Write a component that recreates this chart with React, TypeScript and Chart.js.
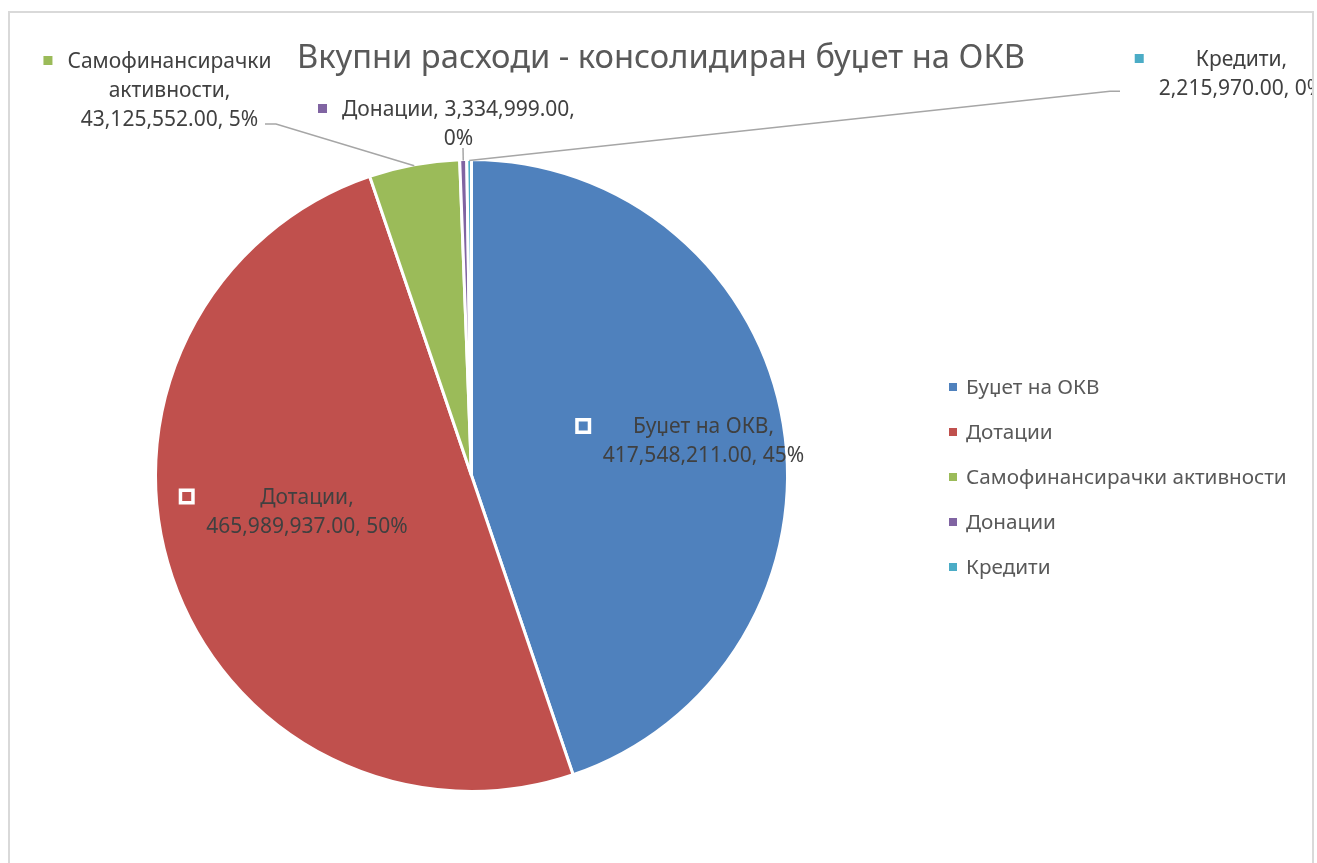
import React, { useEffect, useRef } from "react";
import { Chart, registerables } from "chart.js";

Chart.register(...registerables);

const titleText = "Вкупни расходи - консолидиран буџет на ОКВ";
const categories = [
  "Буџет на ОКВ",
  "Дотации",
  "Самофинансирачки активности",
  "Донации",
  "Кредити",
];
const values = [417548211.0, 465989937.0, 43125552.0, 3334999.0, 2215970.0];
const colors = ["#4F81BD", "#C0504D", "#9BBB59", "#8064A2", "#4BACC6"];

// line breaks (after token index) for each data label
const labelBreaks = [[2], [0], [0, 1], [1], [0]];
// text block centre (first line) offset from pie centre, px
const labelOffsets = [
  [232, -49.5],
  [-164.5, 21],
  [-302, -415],
  [-13, -367],
  [770, -417],
];
// leader line points (relative to pie centre) for outside labels; null = none
const leaderPoints: (number[][] | null)[] = [
  null,
  null,
  [
    [-206.5, -351.5],
    [-195.5, -351.5],
  ],
  [[-8.5, -327.5]],
  [
    [648.5, -384.2],
    [638.5, -384.2],
  ],
];

const FONT = "'Noto Sans', sans-serif";

function fmt(v: number) {
  return v.toLocaleString("en-US", {
    minimumFractionDigits: 2,
    maximumFractionDigits: 2,
  });
}

const labelsPlugin = {
  id: "customLabels",
  afterDatasetsDraw(chart: any) {
    const ctx: CanvasRenderingContext2D = chart.ctx;
    const meta = chart.getDatasetMeta(0);
    const total = values.reduce((a, b) => a + b, 0);
    ctx.save();

    // title
    const tSize = 32.7;
    ctx.font = `${tSize}px ${FONT}`;
    ctx.fillStyle = "#595959";
    ctx.textAlign = "center";
    ctx.textBaseline = "alphabetic";
    ctx.fillText(titleText, chart.width / 2, 43 + tSize * 0.357);

    // legend
    const lSize = 20.7;
    ctx.font = `${lSize}px ${FONT}`;
    ctx.textAlign = "left";
    categories.forEach((c, i) => {
      const y = 374 + i * 45;
      ctx.fillStyle = colors[i];
      ctx.fillRect(939, y - 4, 8, 8);
      ctx.fillStyle = "#595959";
      ctx.fillText(c, 956, y + lSize * 0.357);
    });

    // data labels
    const size = 21;
    const lh = 29;
    ctx.font = `${size}px ${FONT}`;
    meta.data.forEach((arc: any, i: number) => {
      const cx = arc.x;
      const cy = arc.y;
      const pct = Math.round((values[i] / total) * 100) + "%";
      const text = `${categories[i]}, ${fmt(values[i])}, ${pct}`;
      const tokens = text.split(" ");
      const lines: string[] = [];
      let cur: string[] = [];
      tokens.forEach((t, k) => {
        cur.push(t);
        if (labelBreaks[i].includes(k)) {
          lines.push(cur.join(" "));
          cur = [];
        }
      });
      if (cur.length) lines.push(cur.join(" "));

      const tx = cx + labelOffsets[i][0];
      const ty = cy + labelOffsets[i][1];
      let maxW = 0;
      lines.forEach((l) => (maxW = Math.max(maxW, ctx.measureText(l).width)));
      const left = tx - maxW / 2;

      // leader line
      const lp = leaderPoints[i];
      if (lp) {
        const mid = (arc.startAngle + arc.endAngle) / 2;
        const R = arc.outerRadius;
        ctx.strokeStyle = "#A6A6A6";
        ctx.lineWidth = 1.5;
        ctx.beginPath();
        ctx.moveTo(cx + lp[0][0], cy + lp[0][1]);
        for (let k = 1; k < lp.length; k++) ctx.lineTo(cx + lp[k][0], cy + lp[k][1]);
        ctx.lineTo(cx + (R - 1) * Math.cos(mid), cy + (R - 1) * Math.sin(mid));
        ctx.stroke();
      }

      // legend key
      const mx = left - 19.5;
      ctx.fillStyle = "#ffffff";
      ctx.fillRect(mx - 8, ty - 8, 16, 16);
      ctx.fillStyle = colors[i];
      ctx.fillRect(mx - 4.5, ty - 4.5, 9, 9);

      ctx.fillStyle = "#404040";
      ctx.textAlign = "center";
      lines.forEach((l, k) => {
        ctx.fillText(l, tx, ty + k * lh + size * 0.357);
      });
      ctx.textAlign = "left";
    });
    ctx.restore();
  },
};

export default function App() {
  const ref = useRef<HTMLCanvasElement>(null);
  useEffect(() => {
    if (!ref.current) return;
    const chart = new Chart(ref.current, {
      type: "pie",
      data: {
        labels: categories,
        datasets: [
          {
            data: values,
            backgroundColor: colors,
            borderColor: "#ffffff",
            borderWidth: 3,
            radius: 316,
          } as any,
        ],
      },
      options: {
        responsive: false,
        animation: false,
        devicePixelRatio: 1,
        layout: { padding: { left: 140, right: 519, top: 140, bottom: 75 } },
        plugins: {
          legend: { display: false },
          title: { display: false },
          tooltip: { enabled: false },
        },
      },
      plugins: [labelsPlugin],
    });
    return () => chart.destroy();
  }, []);
  return (
    <div
      style={{
        position: "fixed",
        left: 8,
        top: 11,
        width: 1302,
        height: 860,
        border: "2px solid #d9d9d9",
        overflow: "hidden",
        background: "#fff",
      }}
    >
      <canvas ref={ref} width={1302} height={860} style={{ display: "block" }} />
    </div>
  );
}
